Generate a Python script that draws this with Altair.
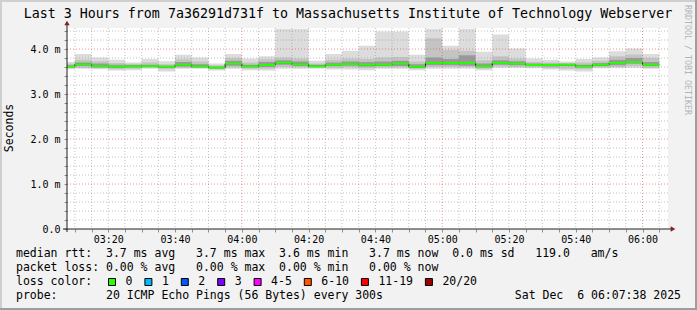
import altair as alt
import pandas as pd

# ---------------- data ----------------
bin_start = ["03:05", "03:10", "03:15", "03:20", "03:25", "03:30", "03:35", "03:40", "03:45", "03:50", "03:55",
             "04:00", "04:05", "04:10", "04:15", "04:20", "04:25", "04:30", "04:35", "04:40", "04:45", "04:50", "04:55",
             "05:00", "05:05", "05:10", "05:15", "05:20", "05:25", "05:30", "05:35", "05:40", "05:45", "05:50", "05:55", "06:00"]
median_ms = [3.61, 3.66, 3.62, 3.61, 3.615, 3.62, 3.61, 3.65, 3.615, 3.585, 3.675,
             3.615, 3.645, 3.695, 3.66, 3.615, 3.65, 3.665, 3.65, 3.65, 3.675, 3.605, 3.69,
             3.69, 3.69, 3.62, 3.69, 3.675, 3.645, 3.645, 3.65, 3.615, 3.65, 3.69, 3.71, 3.65]
max_ms = [3.71, 3.89, 3.81, 3.76, 3.70, 3.78, 3.73, 3.87, 3.81, 3.68, 3.89,
          3.79, 3.84, 4.45, 4.45, 3.74, 3.89, 3.96, 4.07, 4.39, 4.39, 3.87, 4.45,
          4.07, 4.45, 3.94, 4.32, 4.01, 3.79, 3.76, 3.72, 3.78, 3.81, 3.95, 4.01, 3.89]
min_ms = [3.55, 3.56, 3.55, 3.52, 3.53, 3.56, 3.50, 3.56, 3.56, 3.52, 3.56,
          3.53, 3.52, 3.56, 3.56, 3.56, 3.545, 3.545, 3.53, 3.56, 3.56, 3.53, 3.56,
          3.56, 3.56, 3.53, 3.58, 3.58, 3.575, 3.545, 3.52, 3.50, 3.57, 3.575, 3.58, 3.56]
band_hi = [3.67, 3.76, 3.73, 3.69, 3.67, 3.70, 3.66, 3.77, 3.72, 3.64, 3.80,
           3.70, 3.77, 3.81, 3.79, 3.68, 3.76, 3.79, 3.78, 3.81, 3.82, 3.72, 4.24,
           3.98, 3.96, 3.75, 3.84, 3.79, 3.71, 3.70, 3.69, 3.70, 3.74, 3.84, 3.88, 3.80]
band_lo = [3.57, 3.58, 3.57, 3.55, 3.56, 3.58, 3.55, 3.58, 3.58, 3.55, 3.59,
           3.56, 3.56, 3.60, 3.59, 3.58, 3.58, 3.59, 3.57, 3.59, 3.59, 3.56, 3.60,
           3.60, 3.60, 3.56, 3.61, 3.60, 3.59, 3.57, 3.56, 3.55, 3.59, 3.60, 3.62, 3.58]
core_hi = [3.64, 3.70, 3.68, 3.65, 3.64, 3.65, 3.63, 3.71, 3.66, 3.61, 3.74,
           3.65, 3.71, 3.75, 3.72, 3.65, 3.70, 3.72, 3.71, 3.72, 3.74, 3.66, 3.81,
           3.78, 3.86, 3.68, 3.75, 3.73, 3.68, 3.67, 3.67, 3.65, 3.69, 3.76, 3.80, 3.71]
core_lo = [3.59, 3.62, 3.59, 3.58, 3.59, 3.60, 3.58, 3.61, 3.59, 3.57, 3.63,
           3.59, 3.60, 3.65, 3.62, 3.60, 3.62, 3.63, 3.61, 3.62, 3.62, 3.58, 3.64,
           3.64, 3.63, 3.59, 3.65, 3.64, 3.62, 3.61, 3.62, 3.59, 3.62, 3.64, 3.67, 3.62]

x_tick_labels = ["03:20", "03:40", "04:00", "04:20", "04:40", "05:00", "05:20", "05:40", "06:00"]
y_tick_values = [0, 1, 2, 3, 4]
y_tick_labels = ["0.0", "1.0 m", "2.0 m", "3.0 m", "4.0 m"]

loss_labels = ["0", "1", "2", "3", "4-5", "6-10", "11-19", "20/20"]
loss_colors = ["#26ff00", "#00b8ff", "#0059ff", "#7e00ff", "#ff00ff", "#ff5500", "#ff0000", "#a10000"]

title_text = "Last 3 Hours from 7a36291d731f to Massachusetts Institute of Technology Webserver"
rtt_items = ["median rtt:", "3.7 ms avg", "3.7 ms max", "3.6 ms min", "3.7 ms now", "0.0 ms sd", "119.0", "am/s"]
rtt_cols = [0, 13, 26, 38, 51, 63, 75, 83]
loss_items = ["packet loss:", "0.00 % avg", "0.00 % max", "0.00 % min", "0.00 % now"]
loss_cols = [0, 13, 26, 38, 51]
probe_items = ["probe:", "20 ICMP Echo Pings (56 Bytes) every 300s"]
probe_cols = [0, 13]
date_text = "Sat Dec  6 06:07:38 2025"
watermark = "RRDTOOL / TOBI OETIKER"

# ---------------- layout constants ----------------
W, H = 601, 201
PX_PER_MS = 45.0
Y_MAX = H / PX_PER_MS
STEP = 5
MONO = "DejaVu Sans Mono"
CHAR_W = 6.9
NB = "\u00a0"


def to_min(s):
    h, m = s.split(":")
    return int(h) * 60 + int(m)


x0 = to_min("03:07") + 38 / 60.0
x1 = x0 + 180
xs = alt.Scale(domain=[x0, x1], nice=False, zero=False)
ys = alt.Scale(domain=[0, Y_MAX], nice=False, zero=False)


def px_to_min(px):
    return x0 + px / W * (x1 - x0)


def row_text(items, cols):
    s = ""
    for it, c in zip(items, cols):
        s = s + NB * max(0, c - len(s)) + it
    return s.replace(" ", NB)


starts = [to_min(s) for s in bin_start]
df = pd.DataFrame({
    "t": starts, "te": [s + STEP for s in starts],
    "med": median_ms, "mx": max_ms, "mn": min_ms,
    "bh": band_hi, "bl": band_lo, "ch": core_hi, "cl": core_lo,
})
last = df.iloc[[-1]].copy()
last["t"] = last["te"]
step_df = pd.concat([df, last], ignore_index=True)

x_expr = " : ".join(f"datum.value == {to_min(s)} ? '{s}'" for s in x_tick_labels) + " : ''"
y_expr = " : ".join(f"datum.value == {v} ? '{s}'" for v, s in zip(y_tick_values, y_tick_labels)) + " : ''"

x_axis = alt.Axis(values=list(range(190, 366, 5)), labelExpr=x_expr, title=None, grid=False,
                  domain=False, tickSize=3, tickColor="#8f8f8f", labelFont=MONO, labelFontSize=10,
                  labelColor="#000000", labelPadding=2, labelOverlap=False, labelFlush=False)
y_axis = alt.Axis(values=[round(i * 0.2, 1) for i in range(0, 23)], labelExpr=y_expr, title=None,
                  grid=False, domain=False, tickSize=3, tickColor="#8f8f8f", labelFont=MONO,
                  labelFontSize=10, labelColor="#000000", labelPadding=4, labelOverlap=False)


def X(field):
    return alt.X(field, scale=xs, axis=x_axis)


def Y(field):
    return alt.Y(field, scale=ys, axis=y_axis)


def band(lo, hi, color):
    return alt.Chart(step_df).mark_area(interpolate="step-after", color=color, clip=True).encode(
        x=X("t:Q"), y=Y(f"{hi}:Q"), y2=f"{lo}:Q")


smoke = [band("mn", "mx", "#dcdcdc"), band("bl", "bh", "#c4c4c4"), band("cl", "ch", "#9a9a9a")]

# grid
vmin = pd.DataFrame({"t": [m for m in range(190, 366, 5) if m % 60]})
vmaj = pd.DataFrame({"t": [m for m in range(190, 366, 5) if m % 60 == 0]})
hmin = pd.DataFrame({"v": [round(i * 0.2, 1) for i in range(1, 23) if i % 5]})
hmaj = pd.DataFrame({"v": [round(i * 0.2, 1) for i in range(1, 23) if i % 5 == 0]})
GRID = dict(color="#8f8f8f", opacity=0.55, strokeDash=[1, 2], strokeWidth=1)
MGRID = dict(color="#de4f4f", opacity=0.6, strokeDash=[1, 2], strokeWidth=1)
grid = [
    alt.Chart(vmin).mark_rule(**GRID).encode(x=X("t:Q")),
    alt.Chart(hmin).mark_rule(**GRID).encode(y=Y("v:Q")),
    alt.Chart(vmaj).mark_rule(**MGRID).encode(x=X("t:Q")),
    alt.Chart(hmaj).mark_rule(**MGRID).encode(y=Y("v:Q")),
]

median_step = alt.Chart(step_df).mark_line(interpolate="step-after", color="#202020", strokeWidth=1,
                                           clip=True).encode(x=X("t:Q"), y=Y("med:Q"))
median_green = alt.Chart(df).mark_rule(color=loss_colors[0], strokeWidth=2, clip=True).encode(
    x=X("t:Q"), x2="te:Q", y=Y("med:Q"))

one = pd.DataFrame({"k": [0]})
AX = "#1f1f1f"
ARROW = "#801f1f"
decor = [
    alt.Chart(one).mark_rule(color=AX, strokeWidth=1).encode(x=alt.value(0), y=alt.value(-4), y2=alt.value(H + 3)),
    alt.Chart(one).mark_rule(color=AX, strokeWidth=1).encode(x=alt.value(-4), x2=alt.value(W + 5), y=alt.value(H)),
    alt.Chart(one).mark_point(shape="triangle-up", filled=True, size=28, color=ARROW, opacity=1).encode(
        x=alt.value(0), y=alt.value(-5)),
    alt.Chart(one).mark_point(shape="triangle-right", filled=True, size=28, color=ARROW, opacity=1).encode(
        x=alt.value(W + 5), y=alt.value(H)),
    # frame shading
    alt.Chart(one).mark_rule(color="#cfcfcf", strokeWidth=2).encode(x=alt.value(-67), x2=alt.value(630), y=alt.value(-27)),
    alt.Chart(one).mark_rule(color="#cfcfcf", strokeWidth=2).encode(x=alt.value(-66), y=alt.value(-28), y2=alt.value(282)),
    alt.Chart(one).mark_rule(color="#9e9e9e", strokeWidth=2).encode(x=alt.value(-67), x2=alt.value(630), y=alt.value(281)),
    alt.Chart(one).mark_rule(color="#9e9e9e", strokeWidth=2).encode(x=alt.value(629), y=alt.value(-28), y2=alt.value(282)),
]


def text_layer(txt, x, y, size=11.5, align="left", angle=0, color="#000000", baseline="middle"):
    return alt.Chart(one).mark_text(text=txt, font=MONO, fontSize=size, align=align, baseline=baseline,
                                    angle=angle, color=color).encode(x=alt.value(x), y=alt.value(y))


LEFT = 16 - 67
texts = [
    text_layer(title_text.replace(" ", NB), 348 - 67, -14, size=13.3, align="center"),
    text_layer("Seconds", -57, 100, size=11.5, align="center", angle=270),
    text_layer(watermark.replace(" ", NB), 687 - 67, -23, size=8.3, angle=90, color="#b4b4b4"),
    text_layer(row_text(rtt_items, rtt_cols), LEFT, 226),
    text_layer(row_text(loss_items, loss_cols), LEFT, 240),
    text_layer("loss color:".replace(" ", NB), LEFT, 254),
    text_layer(row_text(probe_items, probe_cols), LEFT, 268),
    text_layer(date_text.replace(" ", NB), 681 - 67, 268, align="right"),
]

# loss colour legend row (layout in pixels converted into the x scale)
sq_px, lab_px = [], []
cur = 108 - 67
for lab in loss_labels:
    sq_px.append(cur + 4)
    lab_px.append(cur + 17.5)
    cur = cur + 17.5 + len(lab) * CHAR_W + 12
leg = pd.DataFrame({"lab": loss_labels, "col": loss_colors,
                    "xs": [px_to_min(p) for p in sq_px], "xl": [px_to_min(p) for p in lab_px]})
legend_sq = alt.Chart(leg).mark_square(size=49, opacity=1, stroke="#000000", strokeWidth=1).encode(
    x=X("xs:Q"), y=alt.value(254), fill=alt.Color("col:N", scale=None, legend=None))
legend_lab = alt.Chart(leg).mark_text(font=MONO, fontSize=11.5, align="left", baseline="middle",
                                      color="#000000").encode(x=X("xl:Q"), y=alt.value(254), text="lab:N")

chart = alt.layer(*smoke, *grid, median_step, median_green, *decor, *texts, legend_sq, legend_lab).properties(
    width=W, height=H, background="#f2f2f2",
    padding={"left": 67, "top": 28, "right": 29, "bottom": 81},
    autosize=alt.AutoSizeParams(type="none"),
).configure_view(stroke=None, fill="#ffffff")

chart.save("out.html", embed_options={"renderer": "svg", "actions": False})
